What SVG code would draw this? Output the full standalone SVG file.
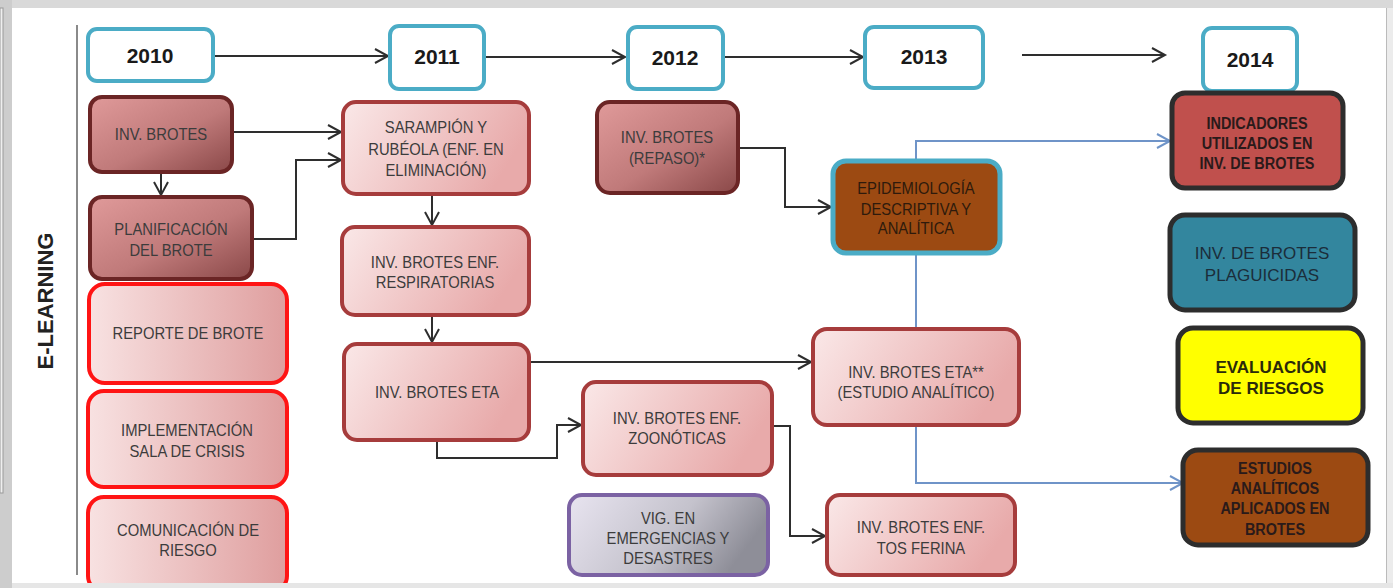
<svg xmlns="http://www.w3.org/2000/svg" width="1393" height="588" viewBox="0 0 1393 588">
<style>
.yr{fill:#fff;stroke:#4bacc6;stroke-width:4}
.yt{font-family:"Liberation Sans",Arial,sans-serif;font-weight:bold;font-size:21px;fill:#1a1a1a;text-anchor:middle}
.t{font-family:"Liberation Sans",Arial,sans-serif;font-size:17px;fill:#3c3c3c;text-anchor:middle}
.tb{font-family:"Liberation Sans",Arial,sans-serif;font-size:17px;font-weight:bold;fill:#2a1a1a;text-anchor:middle}
.dk{fill:url(#gDark);stroke:#6b2525;stroke-width:4}
.lt{fill:url(#gLight);stroke:#a63c3c;stroke-width:4}
.rd{fill:url(#gRed);stroke:#ff1414;stroke-width:4}
.vg{fill:url(#gVig);stroke:#7b62a3;stroke-width:4}
.c14{stroke:#2d2d2d;stroke-width:5}
.ln{fill:none;stroke:#2e2e2e;stroke-width:2}
.bl{fill:none;stroke:#6f94c8;stroke-width:2}
</style>
<defs>
<linearGradient id="gDark" x1="0" y1="0" x2="1" y2="1">
<stop offset="0" stop-color="#e09a9a"/><stop offset="0.55" stop-color="#c07a7a"/><stop offset="1" stop-color="#8a4848"/>
</linearGradient>
<linearGradient id="gLight" x1="0" y1="0" x2="1" y2="0.3">
<stop offset="0" stop-color="#fae8e8"/><stop offset="1" stop-color="#e8aaaa"/>
</linearGradient>
<linearGradient id="gRed" x1="0" y1="0" x2="1" y2="0">
<stop offset="0" stop-color="#f8e2e2"/><stop offset="1" stop-color="#df9e9e"/>
</linearGradient>
<linearGradient id="gVig" x1="0" y1="0" x2="1" y2="0.3">
<stop offset="0" stop-color="#e8e4f0"/><stop offset="0.6" stop-color="#c4c2cc"/><stop offset="1" stop-color="#8e8e98"/>
</linearGradient>
<marker id="ah" markerUnits="userSpaceOnUse" markerWidth="18" markerHeight="18" refX="14" refY="8" orient="auto" viewBox="0 0 18 18">
<path d="M1,1 L14,8 L1,15" fill="none" stroke="#2e2e2e" stroke-width="2"/>
</marker>
<marker id="ahb" markerUnits="userSpaceOnUse" markerWidth="18" markerHeight="18" refX="14" refY="8" orient="auto" viewBox="0 0 18 18">
<path d="M1,1 L14,8 L1,15" fill="none" stroke="#6f94c8" stroke-width="2"/>
</marker>
</defs>
<rect x="0" y="0" width="1393" height="588" fill="#fff"/>
<rect x="0" y="0" width="1393" height="8" fill="#d9d9d9"/>
<rect x="0" y="0" width="12" height="588" fill="#cdcdcd"/>
<rect x="0" y="8" width="3" height="485" fill="#efefef" stroke="#999" stroke-width="1"/>
<rect x="1386" y="8" width="7" height="580" fill="#ececec"/>
<line x1="1386.5" y1="8" x2="1386.5" y2="583" stroke="#bbb" stroke-width="1"/>
<line x1="77" y1="25" x2="77" y2="575" stroke="#8a8a8a" stroke-width="2"/>
<text x="0" y="0" transform="translate(53,301) rotate(-90)" font-family="Liberation Sans,Arial,sans-serif" font-weight="bold" font-size="22" fill="#222" text-anchor="middle">E-LEARNING</text>

<g id="connectors">
<path class="bl" d="M916,160 V141 H1170" marker-end="url(#ahb)"/>
<path class="bl" d="M916,253 V483 H1183" marker-end="url(#ahb)"/>
<path class="ln" d="M213,56 H388" marker-end="url(#ah)"/>
<path class="ln" d="M484,57 H625" marker-end="url(#ah)"/>
<path class="ln" d="M723,57 H863" marker-end="url(#ah)"/>
<path class="ln" d="M1022,55 H1165" marker-end="url(#ah)"/>
<path class="ln" d="M232,132 H341" marker-end="url(#ah)"/>
<path class="ln" d="M161,172 V195" marker-end="url(#ah)"/>
<path class="ln" d="M252,239 H296 V160 H341" marker-end="url(#ah)"/>
<path class="ln" d="M432,194 V225" marker-end="url(#ah)"/>
<path class="ln" d="M432,315 V342" marker-end="url(#ah)"/>
<path class="ln" d="M529,362 H811" marker-end="url(#ah)"/>
<path class="ln" d="M437,440 V458 H557 V425 H581" marker-end="url(#ah)"/>
<path class="ln" d="M772,426 H790 V536 H825" marker-end="url(#ah)"/>
<path class="ln" d="M738,148 H785 V207 H831" marker-end="url(#ah)"/>
</g>

<g id="y2010"><rect class="yr" x="88" y="29" width="125" height="52" rx="9"/><text class="yt" x="150" y="63">2010</text></g>
<g id="y2011"><rect class="yr" x="390" y="26" width="94" height="63" rx="9"/><text class="yt" x="437" y="64">2011</text></g>
<g id="y2012"><rect class="yr" x="628" y="27" width="95" height="62" rx="9"/><text class="yt" x="675" y="65">2012</text></g>
<g id="y2013"><rect class="yr" x="865" y="27" width="118" height="61" rx="9"/><text class="yt" x="924" y="64">2013</text></g>
<g id="y2014"><rect class="yr" x="1203" y="28" width="94" height="63" rx="9"/><text class="yt" x="1250" y="67">2014</text></g>

<g id="n-invbrotes"><rect class="dk" x="90" y="97" width="142" height="75" rx="12"/><g transform="matrix(0.87,0,0,1,20.93,0)"><text class="t" x="161" y="140">INV. BROTES</text></g></g>
<g id="n-planificacion"><rect class="dk" x="90" y="197" width="162" height="82" rx="12"/><g transform="matrix(0.87,0,0,1,22.23,0)"><text class="t" x="171" y="235">PLANIFICACIÓN</text><text class="t" x="171" y="256">DEL BROTE</text></g></g>
<g id="n-reporte"><rect class="rd" x="89" y="284" width="198" height="99" rx="16"/><g transform="matrix(0.87,0,0,1,24.44,0)"><text class="t" x="188" y="339">REPORTE DE BROTE</text></g></g>
<g id="n-sala"><rect class="rd" x="88" y="391" width="199" height="96" rx="16"/><g transform="matrix(0.87,0,0,1,24.31,0)"><text class="t" x="187" y="436">IMPLEMENTACIÓN</text><text class="t" x="187" y="457">SALA DE CRISIS</text></g></g>
<g id="n-comunicacion"><rect class="rd" x="88" y="497" width="199" height="95" rx="16"/><g transform="matrix(0.87,0,0,1,24.44,0)"><text class="t" x="188" y="536">COMUNICACIÓN DE</text><text class="t" x="188" y="556">RIESGO</text></g></g>

<g id="n-sarampion"><rect class="lt" x="343" y="102" width="186" height="92" rx="13"/><g transform="matrix(0.87,0,0,1,56.68,0)"><text class="t" x="436" y="133">SARAMPIÓN Y</text><text class="t" x="436" y="155">RUBÉOLA (ENF. EN</text><text class="t" x="436" y="176">ELIMINACIÓN)</text></g></g>
<g id="n-respiratorias"><rect class="lt" x="342" y="227" width="187" height="88" rx="13"/><g transform="matrix(0.87,0,0,1,56.55,0)"><text class="t" x="435" y="268">INV. BROTES ENF.</text><text class="t" x="435" y="288">RESPIRATORIAS</text></g></g>
<g id="n-eta"><rect class="lt" x="344" y="344" width="185" height="96" rx="13"/><g transform="matrix(0.87,0,0,1,56.81,0)"><text class="t" x="437" y="398">INV. BROTES ETA</text></g></g>
<g id="n-zoonoticas"><rect class="lt" x="583" y="382" width="189" height="93" rx="13"/><g transform="matrix(0.87,0,0,1,88.01,0)"><text class="t" x="677" y="424">INV. BROTES ENF.</text><text class="t" x="677" y="444">ZOONÓTICAS</text></g></g>
<g id="n-vig"><rect class="vg" x="569" y="495" width="199" height="80" rx="13"/><g transform="matrix(0.87,0,0,1,86.84,0)"><text class="t" x="668" y="524">VIG. EN</text><text class="t" x="668" y="544">EMERGENCIAS Y</text><text class="t" x="668" y="564">DESASTRES</text></g></g>

<g id="n-repaso"><rect class="dk" x="597" y="102" width="141" height="91" rx="13"/><g transform="matrix(0.87,0,0,1,86.71,0)"><text class="t" x="667" y="143">INV. BROTES</text><text class="t" x="667" y="164">(REPASO)*</text></g></g>
<g id="n-epidemiologia"><rect x="833" y="161" width="167" height="92" rx="13" fill="#9c4a12" stroke="#4bacc6" stroke-width="5"/><g transform="matrix(0.87,0,0,1,119.08,0)"><text class="t" x="916" y="194" style="fill:#2e1a0c">EPIDEMIOLOGÍA</text><text class="t" x="916" y="215" style="fill:#2e1a0c">DESCRIPTIVA Y</text><text class="t" x="916" y="234" style="fill:#2e1a0c">ANALÍTICA</text></g></g>
<g id="n-eta2"><rect class="lt" x="813" y="329" width="206" height="96" rx="14"/><g transform="matrix(0.87,0,0,1,119.08,0)"><text class="t" x="916" y="378">INV. BROTES ETA**</text><text class="t" x="916" y="398">(ESTUDIO ANALÍTICO)</text></g></g>
<g id="n-tosferina"><rect class="lt" x="827" y="495" width="188" height="80" rx="13"/><g transform="matrix(0.87,0,0,1,119.73,0)"><text class="t" x="921" y="533">INV. BROTES ENF.</text><text class="t" x="921" y="554">TOS FERINA</text></g></g>

<g id="n-indicadores"><rect class="c14" x="1172" y="93" width="171" height="95" rx="13" fill="#c0504d"/><g transform="matrix(0.85,0,0,1,188.55,0)"><text class="tb" x="1257" y="129">INDICADORES</text><text class="tb" x="1257" y="149">UTILIZADOS EN</text><text class="tb" x="1257" y="169">INV. DE BROTES</text></g></g>
<g id="n-plaguicidas"><rect class="c14" x="1170" y="215" width="185" height="95" rx="15" fill="#33869e"/><text x="1262" y="259" font-family="Liberation Sans,Arial,sans-serif" font-size="17" fill="#1b2d3a" text-anchor="middle">INV. DE BROTES</text><text x="1262" y="281" font-family="Liberation Sans,Arial,sans-serif" font-size="17" fill="#1b2d3a" text-anchor="middle">PLAGUICIDAS</text></g>
<g id="n-evaluacion"><rect class="c14" x="1178" y="328" width="185" height="95" rx="15" fill="#ffff00"/><text x="1271" y="373" font-family="Liberation Sans,Arial,sans-serif" font-weight="bold" font-size="17" fill="#2a2a0a" text-anchor="middle">EVALUACIÓN</text><text x="1271" y="394" font-family="Liberation Sans,Arial,sans-serif" font-weight="bold" font-size="17" fill="#2a2a0a" text-anchor="middle">DE RIESGOS</text></g>
<g id="n-estudios"><rect class="c14" x="1183" y="450" width="185" height="95" rx="15" fill="#9c4a12"/><g transform="matrix(0.85,0,0,1,191.25,0)"><text class="tb" x="1275" y="474">ESTUDIOS</text><text class="tb" x="1275" y="494">ANALÍTICOS</text><text class="tb" x="1275" y="514">APLICADOS EN</text><text class="tb" x="1275" y="535">BROTES</text></g></g>

<rect x="12" y="583" width="1381" height="5" fill="#e6e6e6"/>
</svg>
